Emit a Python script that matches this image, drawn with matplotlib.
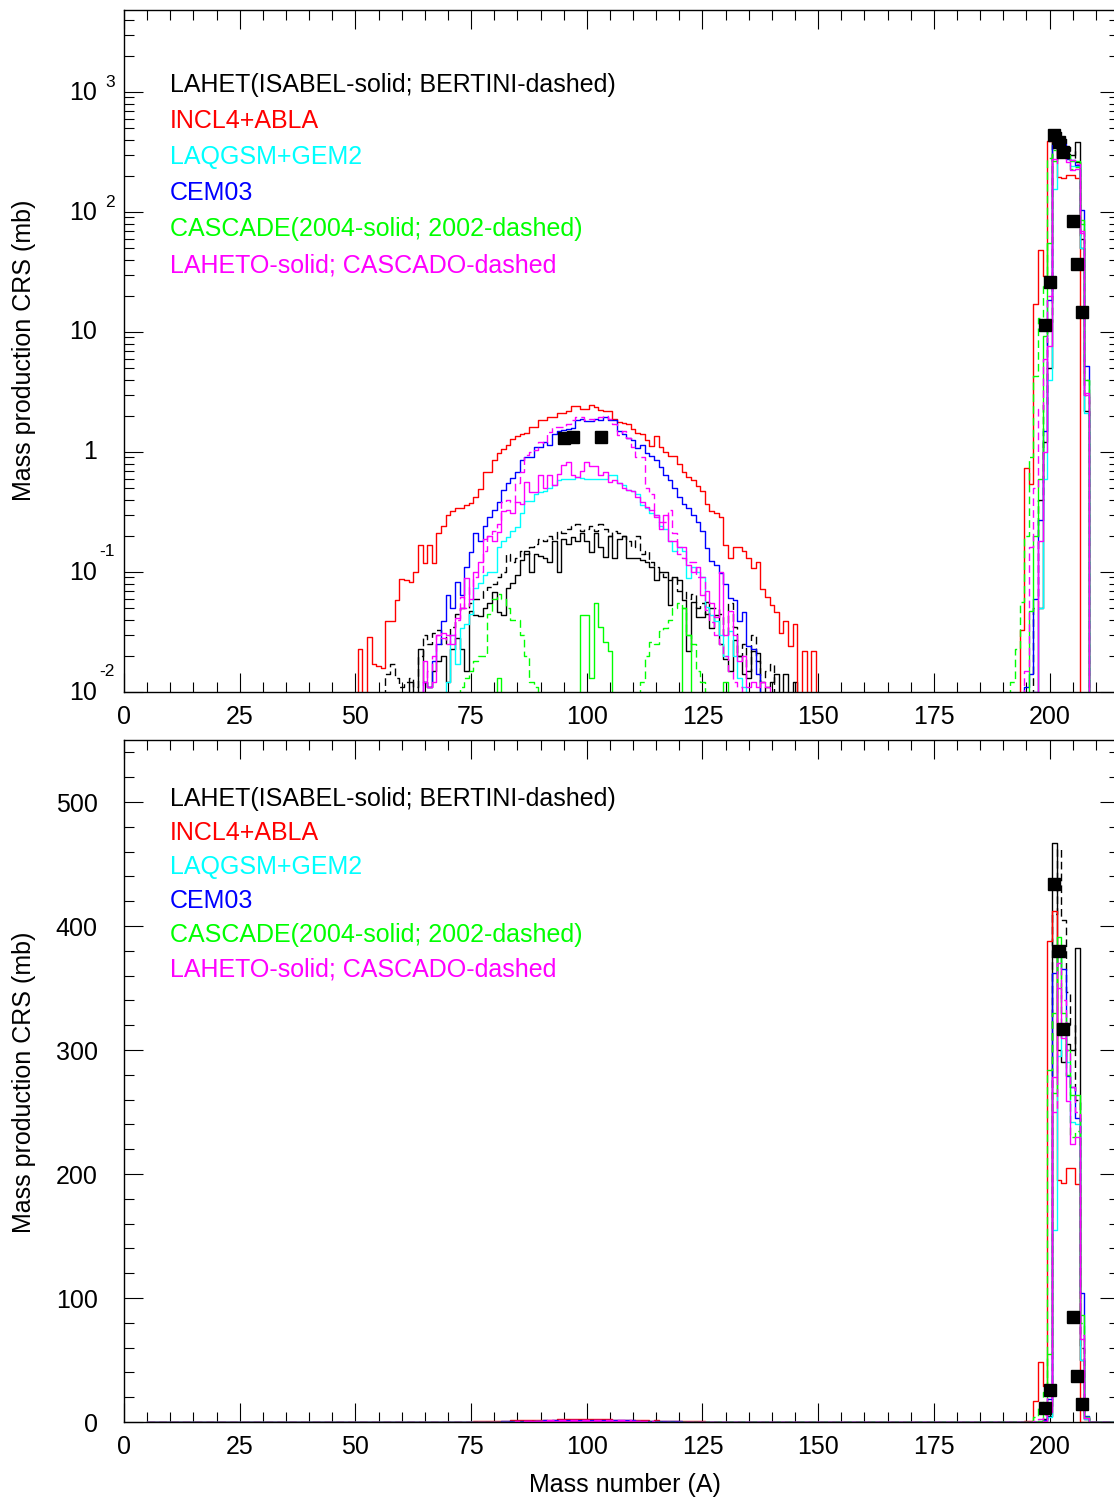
import numpy as np
import matplotlib.pyplot as plt
import matplotlib.transforms as mtransforms
from matplotlib.ticker import MultipleLocator, LogLocator, NullFormatter

plt.rcParams['font.family'] = ['Liberation Sans', 'DejaVu Sans']

# production cross sections (mb) per mass number A
# fission region lists start at A = 50 (101 values, A = 50..150)
# residue region lists start at A = 190 (21 values, A = 190..210)
A_FIS0 = 50
A_RES0 = 190

isabel_fis = [0, 0, 0, 0, 0, 0, 0, 0, 0, 0,
              0, 0, 0.012, 0, 0.023, 0.012, 0.011, 0.015, 0.018, 0.02,
              0.012, 0.023, 0.028, 0.023, 0.015, 0.047, 0.044, 0.043, 0.05, 0.055,
              0.068, 0.046, 0.044, 0.074, 0.081, 0.094, 0.125, 0.15, 0.10, 0.14,
              0.135, 0.13, 0.12, 0.18, 0.10, 0.19, 0.17, 0.196, 0.18, 0.21,
              0.18, 0.147, 0.21, 0.16, 0.134, 0.20, 0.13, 0.19, 0.20, 0.13,
              0.13, 0.13, 0.125, 0.12, 0.11, 0.086, 0.10, 0.10, 0.053, 0.09,
              0.086, 0.058, 0.022, 0.056, 0.042, 0.042, 0.056, 0.034, 0.044, 0.025,
              0.019, 0.015, 0.027, 0.02, 0.014, 0.013, 0.022, 0.021, 0, 0.011,
              0.012, 0.014, 0, 0.014, 0, 0.012, 0, 0, 0, 0,
              0]
bertini_fis = [0, 0, 0, 0, 0, 0, 0, 0.014, 0.017, 0.013,
               0.011, 0.012, 0.013, 0.011, 0.02, 0.03, 0.025, 0.031, 0.033, 0.025,
               0.03, 0.035, 0.045, 0.05, 0.05, 0.055, 0.06, 0.06, 0.07, 0.075,
               0.08, 0.09, 0.10, 0.14, 0.12, 0.13, 0.15, 0.14, 0.16, 0.17,
               0.19, 0.18, 0.20, 0.19, 0.22, 0.21, 0.23, 0.24, 0.25, 0.22,
               0.23, 0.24, 0.22, 0.25, 0.23, 0.20, 0.22, 0.21, 0.20, 0.18,
               0.16, 0.20, 0.14, 0.15, 0.12, 0.11, 0.10, 0.09, 0.085, 0.09,
               0.07, 0.07, 0.06, 0.065, 0.05, 0.055, 0.045, 0.05, 0.05, 0.045,
               0.03, 0.055, 0.035, 0.02, 0.025, 0.015, 0.03, 0.018, 0.012, 0.015,
               0.017, 0, 0, 0, 0, 0, 0, 0, 0, 0,
               0]
incl_fis = [0, 0.023, 0, 0.029, 0.017, 0.0165, 0.016, 0.039, 0.039, 0.058,
            0.087, 0.085, 0.083, 0.10, 0.168, 0.118, 0.168, 0.118, 0.21, 0.24,
            0.30, 0.32, 0.34, 0.34, 0.36, 0.376, 0.42, 0.49, 0.68, 0.68,
            0.86, 0.98, 1.05, 1.15, 1.28, 1.36, 1.40, 1.45, 1.60, 1.60,
            1.86, 1.86, 1.95, 1.95, 2.10, 2.10, 2.20, 2.40, 2.40, 2.30,
            2.30, 2.46, 2.35, 2.25, 2.20, 2.20, 1.90, 1.79, 1.75, 1.70,
            1.56, 1.45, 1.42, 1.26, 1.12, 1.35, 1.10, 1.00, 0.93, 0.92,
            0.79, 0.68, 0.62, 0.58, 0.52, 0.47, 0.37, 0.32, 0.31, 0.29,
            0.168, 0.13, 0.16, 0.16, 0.15, 0.13, 0.107, 0.12, 0.072, 0.062,
            0.053, 0.046, 0.031, 0.039, 0.024, 0.037, 0, 0.022, 0, 0.022,
            0]
laqgsm_fis = [0, 0, 0, 0, 0, 0, 0, 0, 0, 0,
              0, 0, 0, 0, 0, 0, 0, 0, 0, 0,
              0.012, 0.03, 0.017, 0.034, 0.037, 0.045, 0.074, 0.081, 0.094, 0.10,
              0.10, 0.16, 0.18, 0.196, 0.22, 0.235, 0.31, 0.39, 0.39, 0.45,
              0.46, 0.47, 0.50, 0.53, 0.58, 0.60, 0.60, 0.60, 0.62, 0.61,
              0.60, 0.60, 0.60, 0.60, 0.60, 0.64, 0.64, 0.55, 0.53, 0.48,
              0.47, 0.45, 0.36, 0.34, 0.31, 0.30, 0.24, 0.23, 0.18, 0.15,
              0.16, 0.15, 0.089, 0.11, 0.10, 0.09, 0.051, 0.044, 0.039, 0.03,
              0.02, 0.032, 0.02, 0.013, 0.011, 0, 0, 0, 0, 0,
              0, 0, 0, 0, 0, 0, 0, 0, 0, 0,
              0]
cem_fis = [0, 0, 0, 0, 0, 0, 0, 0, 0, 0,
           0, 0, 0, 0, 0, 0.012, 0.011, 0.018, 0.025, 0.039,
           0.064, 0.05, 0.083, 0.064, 0.11, 0.147, 0.21, 0.18, 0.24, 0.29,
           0.33, 0.38, 0.48, 0.55, 0.61, 0.68, 0.86, 0.91, 0.91, 1.10,
           1.10, 1.22, 1.15, 1.40, 1.50, 1.52, 1.55, 1.57, 1.86, 1.90,
           1.80, 1.80, 1.90, 1.86, 1.95, 1.85, 1.85, 1.50, 1.40, 1.30,
           1.25, 1.07, 1.15, 0.98, 0.92, 0.86, 0.75, 0.64, 0.58, 0.50,
           0.42, 0.37, 0.34, 0.30, 0.26, 0.22, 0.158, 0.124, 0.115, 0.098,
           0.079, 0.061, 0.058, 0.039, 0.046, 0.024, 0.023, 0.014, 0, 0,
           0, 0, 0, 0, 0, 0, 0, 0, 0, 0,
           0]
cascade04_fis = [0] * 31 + [0.013] + [0] * 17 + [0.044,
                 0.044, 0.013, 0.055, 0.035, 0.026, 0.022] + [0] * 15 + [0.05, 0.03] + [0] * 7 + [0.012] + [0] * 20
cascade02_fis = [0] * 23 + [0.011, 0.013, 0.015, 0.018, 0.02, 0.02, 0.045,
                 0.06, 0.065, 0.06, 0.05, 0.04, 0.04, 0.03, 0.02, 0.012, 0.011] + [0] * 22 + [
                 0.012, 0.02, 0.026, 0.025, 0.032, 0.034, 0.04, 0.05,
                 0.055, 0.05, 0.03, 0.025, 0.015, 0.012] + [0] * 25
laheto_fis = [0, 0, 0, 0, 0, 0, 0, 0, 0, 0,
              0, 0, 0, 0, 0, 0.018, 0.011, 0.012, 0.03, 0.031,
              0.03, 0.025, 0.041, 0.05, 0.089, 0.06, 0.10, 0.12, 0.19, 0.20,
              0.18, 0.215, 0.32, 0.33, 0.31, 0.38, 0.37, 0.56, 0.46, 0.46,
              0.64, 0.50, 0.64, 0.53, 0.65, 0.78, 0.82, 0.64, 0.62, 0.70,
              0.82, 0.77, 0.76, 0.64, 0.68, 0.56, 0.58, 0.55, 0.50, 0.48,
              0.47, 0.42, 0.38, 0.35, 0.33, 0.29, 0.23, 0.30, 0.18, 0.18,
              0.16, 0.16, 0.115, 0.10, 0.11, 0.064, 0.07, 0.055, 0.042, 0.10,
              0.03, 0.047, 0.03, 0.018, 0.02, 0.011, 0.012, 0.011, 0.012, 0.011,
              0, 0, 0, 0, 0, 0, 0, 0, 0, 0,
              0]
cascado_fis = [0, 0, 0, 0, 0, 0, 0, 0, 0, 0,
               0, 0, 0, 0, 0, 0.012, 0.015, 0.02, 0.03, 0.028,
               0.025, 0.03, 0.04, 0.062, 0.05, 0.075, 0.09, 0.10, 0.15, 0.20,
               0.22, 0.25, 0.38, 0.40, 0.38, 0.55, 0.68, 0.95, 1.00, 1.04,
               1.20, 1.18, 1.47, 1.60, 1.60, 1.62, 1.70, 1.86, 1.95, 1.95,
               1.86, 1.90, 1.86, 1.95, 2.00, 1.90, 1.70, 1.38, 1.50, 1.30,
               1.10, 0.90, 0.90, 0.50, 0.45, 0.30, 0.26, 0.26, 0.33, 0.21,
               0.14, 0.13, 0.12, 0.12, 0.09, 0.09, 0.048, 0.038, 0.03, 0.025,
               0.02, 0.015, 0.012, 0.011, 0, 0, 0, 0, 0, 0,
               0, 0, 0, 0, 0, 0, 0, 0, 0, 0,
               0]

# residue region, A = 190..210
isabel_res = [0, 0, 0, 0, 0, 0, 0, 0, 0.05, 1.2, 5, 467, 300, 290, 305, 300, 382, 50, 2.2, 0, 0]
bertini_res = [0, 0, 0, 0, 0, 0, 0, 0.05, 0.4, 2.5, 12, 410, 462, 405, 347, 320, 260, 60, 3, 0, 0]
incl_res = [0, 0, 0, 0, 0.033, 0.74, 0.54, 17, 48, 29, 388, 412, 195, 193, 205, 205, 192, 0, 0, 0, 0]
laqgsm_res = [0, 0, 0, 0, 0, 0, 0, 0.01, 0.05, 0.6, 4, 155, 295, 320, 290, 242, 240, 50, 2.1, 0, 0]
cem_res = [0, 0, 0, 0, 0, 0.011, 0.014, 0.06, 0.27, 1.5, 18.5, 362, 376, 365, 279, 270, 245, 104, 5.2, 0, 0]
cascade04_res = [0, 0, 0, 0, 0, 0, 0.047, 0.2, 0.6, 9.3, 55, 265, 391, 330, 300, 264, 264, 86, 4, 0, 0]
cascade02_res = [0, 0, 0.012, 0.023, 0.056, 0.2, 0.9, 4.3, 13, 24, 284, 330, 380, 310, 280, 230, 235, 80, 4, 0, 0]
laheto_res = [0, 0, 0, 0, 0, 0, 0, 0.01, 0.18, 1.0, 7.7, 278, 350, 310, 259, 224, 230, 67, 3.1, 0, 0]
cascado_res = [0, 0, 0, 0, 0, 0.015, 0.16, 0.5, 2.3, 6, 20, 250, 370, 340, 300, 270, 250, 70, 3, 0, 0]

# experimental data
exp_A = [95, 97, 103, 199, 200, 201, 202, 203, 205, 206, 207]
exp_crs = [1.31, 1.34, 1.33, 11.5, 26, 434, 380, 317, 84.5, 37, 14.6]

legend_labels = ["LAHET(ISABEL-solid; BERTINI-dashed)", "INCL4+ABLA", "LAQGSM+GEM2",
                 "CEM03", "CASCADE(2004-solid; 2002-dashed)", "LAHETO-solid; CASCADO-dashed"]
legend_colors = ["black", "#ff0000", "#00ffff", "#0000ff", "#00ff00", "#ff00ff"]

A = np.arange(5, 215)


def full(fis, res):
    y = np.zeros(len(A))
    y[A_FIS0 - 5:A_FIS0 - 5 + len(fis)] = fis
    y[A_RES0 - 5:A_RES0 - 5 + len(res)] = res
    return y


dash = (0, (5.5, 3))
series = [
    (isabel_fis, isabel_res, "black", "-"),
    (bertini_fis, bertini_res, "black", dash),
    (incl_fis, incl_res, "#ff0000", "-"),
    (laqgsm_fis, laqgsm_res, "#00ffff", "-"),
    (cem_fis, cem_res, "#0000ff", "-"),
    (cascade04_fis, cascade04_res, "#00ff00", "-"),
    (cascade02_fis, cascade02_res, "#00ff00", dash),
    (laheto_fis, laheto_res, "#ff00ff", "-"),
    (cascado_fis, cascado_res, "#ff00ff", dash),
]

W, H = 1114, 1499
fig = plt.figure(figsize=(W / 100, H / 100), dpi=100)
ax_l, ax_w = 124 / W, 995 / W
ax1 = fig.add_axes([ax_l, 1 - 692 / H, ax_w, 682 / H])
ax2 = fig.add_axes([ax_l, 1 - 1422 / H, ax_w, 682 / H])

FS = 18
for ax in (ax1, ax2):
    for fis, res, col, ls in series:
        ax.plot(A, full(fis, res), drawstyle='steps-mid', color=col, ls=ls, lw=1.0)
    ax.set_xlim(0, 215)
    ax.xaxis.set_major_locator(MultipleLocator(25))
    ax.xaxis.set_minor_locator(MultipleLocator(5))
    ax.tick_params(which='both', direction='in', top=True, right=True, width=0.8,
                   labelsize=FS)
    ax.tick_params(which='major', length=14)
    ax.tick_params(which='minor', length=7)
    ax.tick_params(axis='x', pad=9)
    for sp in ax.spines.values():
        sp.set_linewidth(1.0)

# experimental points
ax1.plot(exp_A, exp_crs, 's', color='black', ms=8.5, zorder=5)
big = [(a, v) for a, v in zip(exp_A, exp_crs) if a > 150]
ax2.plot([a for a, v in big], [v for a, v in big], 's', color='black', ms=8.5, zorder=5)

# top panel: log scale
ax1.set_yscale('log')
ax1.set_ylim(0.01, 4820)
ax1.yaxis.set_major_locator(LogLocator(base=10, numticks=20))
ax1.yaxis.set_minor_locator(LogLocator(base=10, subs=np.arange(2, 10), numticks=20))
ax1.yaxis.set_major_formatter(NullFormatter())
ax1.yaxis.set_minor_formatter(NullFormatter())

# IDL-style decade labels
trans = mtransforms.blended_transform_factory(ax1.transAxes, ax1.transData)
x_man = (97 - 124) / 995
x_exp = (115 - 124) / 995
for e in range(-2, 4):
    v = 10.0 ** e
    if e in (0, 1):
        ax1.text(x_man, v, "1" if e == 0 else "10", transform=trans, ha='right',
                 va='center', fontsize=FS)
        continue
    ax1.text(x_man, v, "10", transform=mtransforms.offset_copy(trans, fig=fig, y=-1, units='dots'),
             ha='right', va='center', fontsize=FS)
    raise_px = 9 if e > 0 else 20
    ax1.text(x_exp, v, str(e), transform=mtransforms.offset_copy(trans, fig=fig, y=raise_px, units='dots'),
             ha='right', va='center', fontsize=12.5)

# bottom panel: linear scale
ax2.set_ylim(0, 550)
ax2.yaxis.set_major_locator(MultipleLocator(100))
ax2.yaxis.set_minor_locator(MultipleLocator(20))
ax2.tick_params(axis='y', pad=19)

# legends as coloured text
for ax, y0, dy in ((ax1, (692 - 85) / 682, 36 / 682), (ax2, (1422 - 799) / 682, 34 / 682)):
    for i, (lab, col) in enumerate(zip(legend_labels, legend_colors)):
        ax.text((170 - 124) / 995, y0 - i * dy, lab, color=col, fontsize=FS,
                transform=ax.transAxes, ha='left', va='center')

fig.text(24 / W, 1 - 350 / H, "Mass production CRS (mb)", rotation=90, ha='center',
         va='center', fontsize=FS)
fig.text(24 / W, 1 - 1082 / H, "Mass production CRS (mb)", rotation=90, ha='center',
         va='center', fontsize=FS)
fig.text(625 / W, 1 - 1485 / H, "Mass number (A)", ha='center', va='center', fontsize=FS)

fig.savefig("out.png", dpi=100)
